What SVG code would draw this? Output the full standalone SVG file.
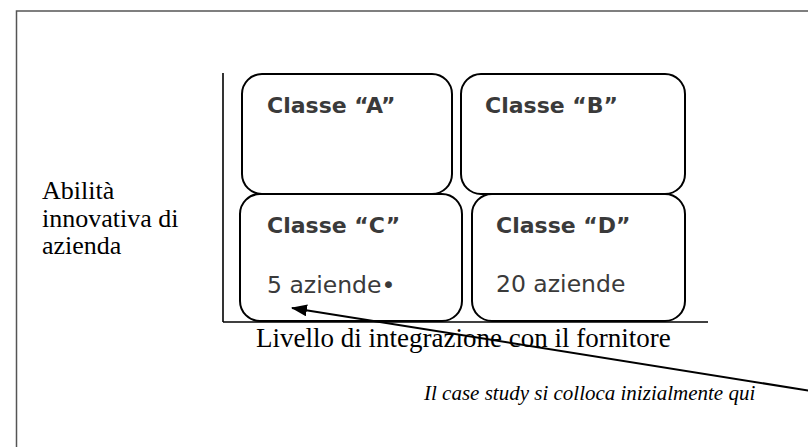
<svg xmlns="http://www.w3.org/2000/svg" width="808" height="447" viewBox="0 0 808 447">
  <style>
    .box { fill: #ffffff; stroke: #000000; stroke-width: 2; }
    .title { font-family: "DejaVu Sans", sans-serif; font-weight: bold; font-size: 22px; fill: #3a3a3a; }
    .count { font-family: "DejaVu Sans", sans-serif; font-size: 23.5px; fill: #3a3a3a; }
    .serif { font-family: "Liberation Serif", "Times New Roman", serif; font-size: 26px; fill: #000000; }
    .note { font-family: "Liberation Serif", "Times New Roman", serif; font-style: italic; font-size: 21px; fill: #000000; }
    .axis { stroke: #000000; stroke-width: 1.6; fill: none; }
  </style>
  <defs>
    <marker id="arrow" markerWidth="16" markerHeight="12" refX="15" refY="6" orient="auto" markerUnits="userSpaceOnUse">
      <path d="M0,0 L16,6 L0,12 z" fill="#000000"/>
    </marker>
  </defs>
  <rect x="0" y="0" width="808" height="447" fill="#ffffff"/>
  <path d="M16.5,460 L16.5,11 L820,11" fill="none" stroke="#555555" stroke-width="1.5"/>

  <g id="axes">
    <line class="axis" x1="223" y1="73" x2="223" y2="322"/>
    <line class="axis" x1="223" y1="322" x2="708" y2="322"/>
  </g>

  <g id="classe-a">
    <rect class="box" x="242" y="74" width="210" height="120" rx="20" ry="20"/>
    <text class="title" x="267" y="113">Classe “A”</text>
  </g>
  <g id="classe-b">
    <rect class="box" x="461" y="74" width="224" height="120" rx="20" ry="20"/>
    <text class="title" x="485" y="113">Classe “B”</text>
  </g>
  <g id="classe-c">
    <rect class="box" x="240" y="194" width="222" height="127" rx="20" ry="20"/>
    <text class="title" x="267" y="233">Classe “C”</text>
    <text class="count" x="267" y="293">5 aziende•</text>
  </g>
  <g id="classe-d">
    <rect class="box" x="472" y="194" width="213" height="127" rx="20" ry="20"/>
    <text class="title" x="496" y="233">Classe “D”</text>
    <text class="count" x="496" y="292">20 aziende</text>
  </g>

  <g id="y-label">
    <text class="serif" x="42" y="199">Abilità</text>
    <text class="serif" x="42" y="226.5">innovativa di</text>
    <text class="serif" x="42" y="254">azienda</text>
  </g>
  <g id="x-label">
    <text class="serif" x="256" y="347" style="font-size:27px">Livello di integrazione con il fornitore</text>
  </g>
  <g id="note">
    <text class="note" x="424" y="400">Il case study si colloca inizialmente qui</text>
  </g>

  <g id="connectors">
    <line x1="830" y1="394" x2="292" y2="308" stroke="#000000" stroke-width="2" marker-end="url(#arrow)"/>
  </g>
</svg>
